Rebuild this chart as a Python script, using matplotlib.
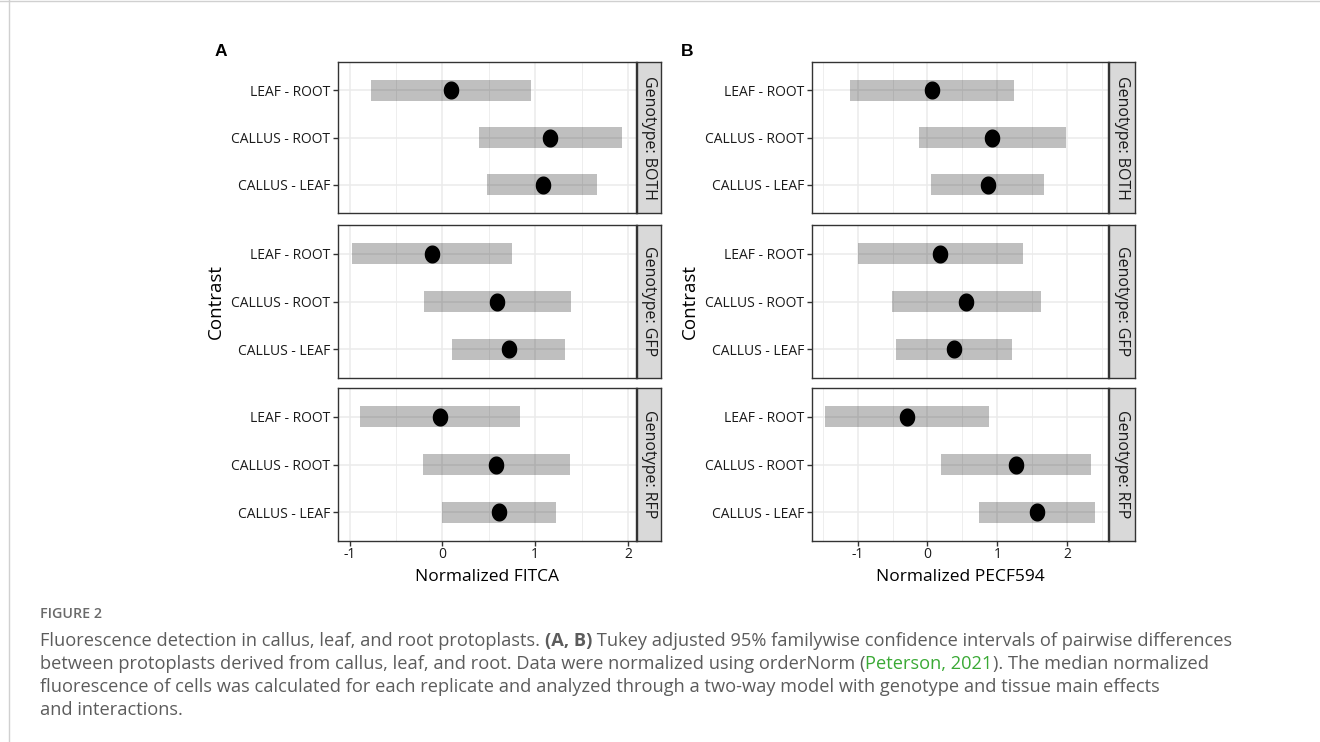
import matplotlib
matplotlib.use("Agg")
import matplotlib.pyplot as plt
import numpy as np
from matplotlib.path import Path
from matplotlib.lines import Line2D

plt.rcParams['font.family'] = ['Open Sans', 'DejaVu Sans']

# ---------------- data ----------------
contrasts = ["LEAF - ROOT", "CALLUS - ROOT", "CALLUS - LEAF"]
genotypes = ["BOTH", "GFP", "RFP"]

# rows: genotype (BOTH, GFP, RFP); columns: contrast order above
fitca_estimate = [[0.09, 1.16, 1.08], [-0.115, 0.594, 0.713], [-0.03, 0.58, 0.61]]
fitca_lower = [[-0.77, 0.39, 0.486], [-0.978, -0.198, 0.10], [-0.889, -0.21, 0.0]]
fitca_upper = [[0.955, 1.94, 1.667], [0.749, 1.383, 1.325], [0.839, 1.37, 1.22]]

pecf_estimate = [[0.067, 0.92, 0.86], [0.185, 0.556, 0.375], [-0.29, 1.27, 1.56]]
pecf_lower = [[-1.11, -0.12, 0.057], [-0.99, -0.51, -0.45], [-1.46, 0.19, 0.74]]
pecf_upper = [[1.24, 1.98, 1.66], [1.36, 1.62, 1.21], [0.88, 2.34, 2.39]]

xticks_vals = [-1, 0, 1, 2]
panel_titles = ["A", "B"]
x_titles = ["Normalized FITCA", "Normalized PECF594"]

# ---------------- figure ----------------
W, H = 1320, 742
fig = plt.figure(figsize=(W / 100, H / 100), dpi=100)


def fx(px):
    return px / W


def fy(py):
    return 1 - py / H


panels = [
    dict(left=338, right=636, strip_r=661, est=fitca_estimate, lo=fitca_lower, hi=fitca_upper),
    dict(left=812, right=1108, strip_r=1135, est=pecf_estimate, lo=pecf_lower, hi=pecf_upper),
]
rows = [(62, 213), (225, 378), (388, 541)]

# slightly tall ellipse marker
theta = np.linspace(0, 2 * np.pi, 60)
ell = Path(np.column_stack([np.cos(theta), 1.18 * np.sin(theta)]), closed=True)

edge = '#333333'
grid_c = '#ebebeb'
ypos = [3, 2, 1]

for pi, p in enumerate(panels):
    all_vals = np.concatenate([np.ravel(p['lo']), np.ravel(p['hi'])])
    dmin, dmax = all_vals.min(), all_vals.max()
    pad = 0.05 * (dmax - dmin)
    xlim = (dmin - pad, dmax + pad)
    minor = [v + 0.5 for v in range(-2, 3) if xlim[0] <= v + 0.5 <= xlim[1]]
    for ri, (top, bot) in enumerate(rows):
        ax = fig.add_axes([fx(p['left']), fy(bot), fx(p['right'] - p['left']), (bot - top) / H])
        ax.set_xticks(xticks_vals)
        ax.set_xticks(minor, minor=True)
        ax.set_yticks(ypos)
        ax.set_yticklabels(contrasts, fontsize=10, color='#1a1a1a')
        ax.set_xlim(xlim)
        ax.set_ylim(0.4, 3.6)
        ax.grid(True, which='major', color=grid_c, lw=1.1, zorder=0)
        ax.grid(True, which='minor', axis='x', color=grid_c, lw=0.6, zorder=0)
        ax.set_axisbelow(True)
        lo = np.array(p['lo'][ri])
        hi = np.array(p['hi'][ri])
        est = np.array(p['est'][ri])
        ax.barh(ypos, hi - lo, left=lo, height=0.45, color='black', alpha=0.25, lw=0, zorder=2)
        ax.plot(est, ypos, ls='none', marker=ell, ms=12, color='black', zorder=3)
        for s in ax.spines.values():
            s.set_color(edge)
            s.set_linewidth(1.0)
        ax.tick_params(axis='y', length=3.5, width=1, color=edge, pad=2)
        ax.tick_params(axis='x', which='minor', length=0)
        if ri == 2:
            ax.tick_params(axis='x', which='major', length=3.5, width=1, color=edge,
                           labelsize=10, labelcolor='#1a1a1a', pad=1)
            ax.set_xticklabels([str(v) for v in xticks_vals])
            ax.set_xlabel(x_titles[pi], fontsize=12.5, color='black', labelpad=5)
        else:
            ax.tick_params(axis='x', which='major', length=0, labelbottom=False)
        if ri == 1:
            ax.set_ylabel("Contrast", fontsize=13.5, color='black', labelpad=5)
        # strip
        sax = fig.add_axes([fx(p['right'] + 1), fy(bot), fx(p['strip_r'] - p['right'] - 1), (bot - top) / H])
        sax.set_facecolor('#d9d9d9')
        sax.set_xticks([])
        sax.set_yticks([])
        for s in sax.spines.values():
            s.set_color(edge)
            s.set_linewidth(1.0)
        sax.text(0.5, 0.5, "Genotype: " + genotypes[ri], rotation=-90, ha='center', va='center',
                 fontsize=11.5, color='#1a1a1a', transform=sax.transAxes)

fig.text(fx(215), fy(52), "A", fontsize=12.5, fontweight='bold', ha='left', va='center',
         family=['Liberation Sans', 'DejaVu Sans'])
fig.text(fx(681), fy(52), "B", fontsize=12.5, fontweight='bold', ha='left', va='center',
         family=['Liberation Sans', 'DejaVu Sans'])

# frame lines of the page
fig.add_artist(Line2D([fx(9), fx(9)], [0, 1], color='#d0d0d0', lw=1))
fig.add_artist(Line2D([0, 1], [fy(1), fy(1)], color='#d0d0d0', lw=1))

# ---------------- caption ----------------
cap_color = '#5c5c5c'
cap_family = ['Open Sans', 'DejaVu Sans']
cap_x0 = 40
cap_x1 = 1228

lines = [
    [("Fluorescence detection in callus, leaf, and root protoplasts. ", cap_color, 'normal'),
     ("(A, B)", cap_color, 'bold'),
     (" Tukey adjusted 95% familywise confidence intervals of pairwise differences", cap_color, 'normal')],
    [("between protoplasts derived from callus, leaf, and root. Data were normalized using orderNorm (", cap_color, 'normal'),
     ("Peterson, 2021", '#3aa935', 'normal'),
     ("). The median normalized", cap_color, 'normal')],
    [("fluorescence of cells was calculated for each replicate and analyzed through a two-way model with genotype and tissue main effects", cap_color, 'normal')],
    [("and interactions.", cap_color, 'normal')],
]
line_y = [641, 664, 687, 710]

fig.canvas.draw()
renderer = fig.canvas.get_renderer()

# fit caption font size so the first line spans the measured width
probe_fs = 12.0
total = 0
for txt, col, wt in lines[0]:
    t = fig.text(0, 0, txt, fontsize=probe_fs, fontweight=wt, family=cap_family)
    total += t.get_window_extent(renderer=renderer).width
    t.remove()
cap_fs = probe_fs * (cap_x1 - cap_x0) / total

fig.text(fx(cap_x0), fy(614), "FIGURE 2", fontsize=cap_fs * 0.78, color='#6a6a6a', ha='left',
         va='center', family=cap_family, fontweight='semibold')

for segs, ly in zip(lines, line_y):
    xpix = cap_x0
    for txt, col, wt in segs:
        t = fig.text(fx(xpix), fy(ly), txt, fontsize=cap_fs, color=col, fontweight=wt,
                     ha='left', va='center', family=cap_family)
        bb = t.get_window_extent(renderer=renderer)
        xpix += bb.width

fig.savefig("out.png", dpi=100)
